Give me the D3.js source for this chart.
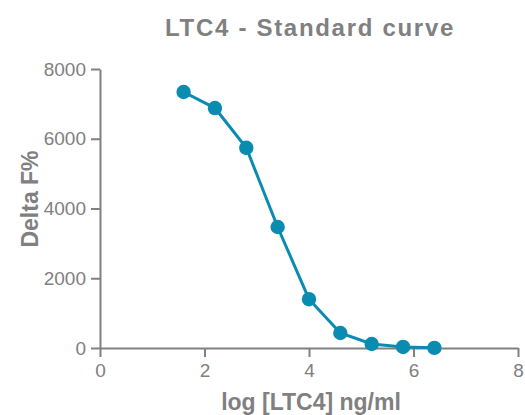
<!DOCTYPE html>
<html>
<head>
<meta charset="utf-8">
<script src="https://cdn.jsdelivr.net/npm/d3@7"></script>
<style>
  body { margin: 0; background: #fff; }
  text { font-family: "Liberation Sans", Arial, sans-serif; }
</style>
</head>
<body>
<div id="chart-area"></div>
<script>
const logConc = [1.6, 2.2, 2.8, 3.4, 4.0, 4.6, 5.2, 5.8, 6.4];
const deltaF = [7340, 6880, 5740, 3470, 1400, 430, 115, 30, 5];
const xTicks = [0, 2, 4, 6, 8];
const yTicks = [0, 2000, 4000, 6000, 8000];

const margin = { left: 100, right: 7, top: 69, bottom: 67 },
  width = 525 - margin.left - margin.right,
  height = 415 - margin.top - margin.bottom,
  grey = "#808080",
  blue = "#0a8bb0";

const svg = d3.select("#chart-area").append("svg")
  .attr("width", 525).attr("height", 415);

const g = svg.append("g").attr("transform", "translate(" + margin.left + "," + margin.top + ")");

const x = d3.scaleLinear().domain([0, 8]).range([0, width]);
const y = d3.scaleLinear().domain([0, 8000]).range([height, 0]);

// axes
const xAxis = g.append("g")
  .attr("transform", "translate(0," + height + ")")
  .call(d3.axisBottom(x).tickValues(xTicks).tickFormat(d3.format("d"))
    .tickSize(9).tickSizeOuter(0).tickPadding(7));
const yAxis = g.append("g")
  .call(d3.axisLeft(y).tickValues(yTicks).tickFormat(d3.format("d"))
    .tickSize(9).tickSizeOuter(0).tickPadding(5));

[xAxis, yAxis].forEach(a => {
  a.attr("font-size", null).attr("font-family", null);
  a.selectAll("path, line").attr("stroke", grey).attr("stroke-width", 2);
  a.selectAll("text").attr("fill", grey).style("font-size", "19px");
});

// line + points
const line = d3.line().x((d, i) => x(logConc[i])).y(d => y(d));
g.append("path").datum(deltaF)
  .attr("d", line)
  .attr("fill", "none")
  .attr("stroke", blue)
  .attr("stroke-width", 3);

g.selectAll("circle").data(deltaF).enter().append("circle")
  .attr("cx", (d, i) => x(logConc[i]))
  .attr("cy", d => y(d))
  .attr("r", 7.2)
  .attr("fill", blue);

// titles
svg.append("text")
  .attr("x", 310).attr("y", 36)
  .attr("text-anchor", "middle")
  .attr("fill", grey)
  .style("font-size", "24px").style("font-weight", "bold").style("letter-spacing", "1.7px")
  .text("LTC4 - Standard curve");

svg.append("text")
  .attr("x", 311).attr("y", 410)
  .attr("text-anchor", "middle")
  .attr("fill", grey)
  .style("font-size", "23px").style("font-weight", "bold")
  .text("log [LTC4] ng/ml");

svg.append("text")
  .attr("transform", "translate(38,199) rotate(-90)")
  .attr("text-anchor", "middle")
  .attr("fill", grey)
  .style("font-size", "23px").style("font-weight", "bold")
  .text("Delta F%");
</script>
</body>
</html>
